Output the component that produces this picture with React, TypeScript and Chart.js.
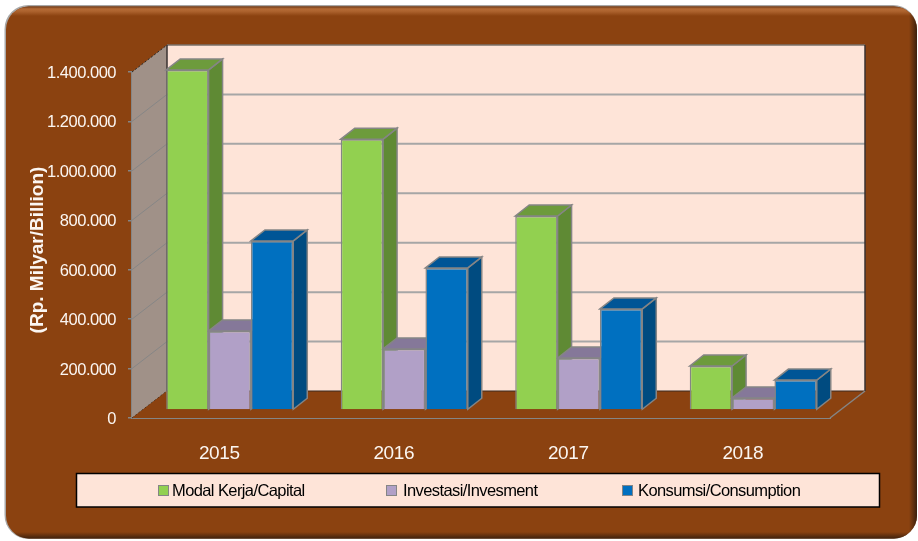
import React, { useEffect, useRef } from "react";
import { Chart, registerables } from "chart.js";

Chart.register(...registerables);

const categories = ["2015", "2016", "2017", "2018"];
const modalKerja = [1376000, 1096000, 785000, 178000];
const investasi = [320000, 247000, 210000, 49000];
const konsumsi = [684000, 575000, 409000, 121000];
const yTicks = [0, 200000, 400000, 600000, 800000, 1000000, 1200000, 1400000];
const yTitle = "(Rp. Milyar/Billion)";

const FONT = '"Liberation Sans", Arial, sans-serif';
const GRAY = "#858585";
const PEACH = "#FEE4D8";
const BROWN = "#8B4210";
const TEXT = "#FBF6F2";
const WALL = { dx: 35, dy: -27 };
const BAR_SHIFT = { dx: 10.5, dy: -8 };
const BAR_DEPTH = { dx: 14, dy: -11 };
const LEGEND_SWATCH_X = [158, 386, 622];
const LEGEND_TEXT_X = [172, 403, 638];
const shades = [
  { front: "#92D050", top: "#6D9B3C", side: "#5F8A34" },
  { front: "#B1A0C7", top: "#857899", side: "#6F6485" },
  { front: "#0070C0", top: "#005596", side: "#004B80" },
];

function poly(ctx: CanvasRenderingContext2D, pts: number[][], fill?: string, stroke?: string, lw = 1) {
  ctx.beginPath();
  pts.forEach((p, i) => (i ? ctx.lineTo(p[0], p[1]) : ctx.moveTo(p[0], p[1])));
  ctx.closePath();
  if (fill) {
    ctx.fillStyle = fill;
    ctx.fill();
  }
  if (stroke) {
    ctx.strokeStyle = stroke;
    ctx.lineWidth = lw;
    ctx.stroke();
  }
}

// Tick labels: a slightly tighter, taller setting, centred on the tick marks.
function tuneLabels(scale: any, spacing: string, shift: number) {
  if (scale.__tuned) return;
  scale.__tuned = true;
  const draw = scale.drawLabels;
  scale.drawLabels = function (area: any) {
    const ctx = this.ctx;
    ctx.save();
    ctx.letterSpacing = spacing;
    ctx.translate(0, shift);
    draw.call(this, area);
    ctx.restore();
  };
}

const framePlugin = {
  id: "frame",
  afterLayout(chart: any) {
    tuneLabels(chart.scales.y, "-0.5px", 1.5);
    tuneLabels(chart.scales.x, "-0.4px", 0);
  },
  beforeDraw(chart: any) {
    const ctx = chart.ctx as CanvasRenderingContext2D;
    ctx.save();
    const path = (x: number, y: number, w: number, h: number, r: number) => {
      ctx.beginPath();
      ctx.roundRect(x, y, w, h, r);
    };
    path(4.5, 5, 912.5, 534, 24);
    ctx.fillStyle = "#A8A8A8";
    ctx.fill();
    path(6, 6.5, 911, 532, 23);
    ctx.fillStyle = BROWN;
    ctx.fill();
    ctx.clip();
    const top = ctx.createLinearGradient(0, 6.5, 0, 16);
    top.addColorStop(0, "#6E3A18");
    top.addColorStop(0.25, "#B56A35");
    top.addColorStop(0.5, "#AD632E");
    top.addColorStop(1, BROWN);
    ctx.fillStyle = top;
    ctx.fillRect(0, 6, 918, 10);
    const right = ctx.createLinearGradient(909, 0, 917, 0);
    right.addColorStop(0, "rgba(50,28,14,0)");
    right.addColorStop(1, "rgba(50,28,14,0.9)");
    ctx.fillStyle = right;
    ctx.fillRect(909, 0, 9, 541);
    const bottom = ctx.createLinearGradient(0, 532, 0, 539);
    bottom.addColorStop(0, "rgba(50,28,14,0)");
    bottom.addColorStop(1, "rgba(50,28,14,0.9)");
    ctx.fillStyle = bottom;
    ctx.fillRect(0, 532, 918, 8);
    ctx.restore();
  },
};

const scenePlugin = {
  id: "scene",
  beforeDatasetsDraw(chart: any) {
    const ctx = chart.ctx as CanvasRenderingContext2D;
    const { left, right, top, bottom } = chart.chartArea;
    const y = chart.scales.y;
    const { dx, dy } = WALL;
    ctx.save();
    poly(ctx, [[left + dx, top + dy], [right + dx, top + dy], [right + dx, bottom + dy], [left + dx, bottom + dy]], PEACH);
    poly(ctx, [[left, top], [left + dx, top + dy], [left + dx, bottom + dy], [left, bottom]], "#A09188");
    yTicks.forEach((v) => {
      const py = y.getPixelForValue(v);
      if (v !== 0 && v !== 1400000) {
        ctx.strokeStyle = "#A6A6A6";
        ctx.lineWidth = 2;
        ctx.beginPath();
        ctx.moveTo(left + dx, py + dy);
        ctx.lineTo(right + dx, py + dy);
        ctx.stroke();
        ctx.strokeStyle = "#868686";
        ctx.lineWidth = 1;
        ctx.beginPath();
        ctx.moveTo(left, py);
        ctx.lineTo(left + dx, py + dy);
        ctx.stroke();
      }
    });
    // wall edges
    ctx.lineWidth = 1.5;
    ctx.strokeStyle = "#7A7068";
    ctx.beginPath();
    ctx.moveTo(left + dx, top + dy);
    ctx.lineTo(right + dx, top + dy);
    ctx.stroke();
    ctx.strokeStyle = "#3A3230";
    ctx.beginPath();
    ctx.moveTo(left + dx, top + dy);
    ctx.lineTo(left + dx, bottom + dy);
    ctx.moveTo(right + dx, top + dy);
    ctx.lineTo(right + dx, bottom + dy);
    ctx.stroke();
    ctx.lineWidth = 1;
    ctx.strokeStyle = "#2A2A2A";
    ctx.setLineDash([2, 2]);
    ctx.beginPath();
    ctx.moveTo(left, top);
    ctx.lineTo(left + dx, top + dy);
    ctx.moveTo(left, bottom);
    ctx.lineTo(left + dx, bottom + dy);
    ctx.stroke();
    ctx.setLineDash([]);
    // floor
    poly(ctx, [[left + dx, bottom + dy], [right + dx, bottom + dy], [right, bottom], [left, bottom]], BROWN);
    ctx.strokeStyle = "#3A2A20";
    ctx.lineWidth = 1;
    ctx.beginPath();
    ctx.moveTo(left + dx, bottom + dy);
    ctx.lineTo(right + dx, bottom + dy);
    ctx.stroke();
    ctx.strokeStyle = GRAY;
    ctx.lineWidth = 1.5;
    ctx.beginPath();
    ctx.moveTo(right, bottom);
    ctx.lineTo(right + dx, bottom + dy);
    ctx.stroke();

    // bar depth faces; Chart.js then draws the front faces in the same shift
    ctx.translate(BAR_SHIFT.dx, BAR_SHIFT.dy);
    const d = BAR_DEPTH;
    categories.forEach((_, i) => {
      chart.data.datasets.forEach((__: any, s: number) => {
        const bar = chart.getDatasetMeta(s).data[i];
        const { x, y: ty, base, width } = bar.getProps(["x", "y", "base", "width"], true);
        const l = x - width / 2;
        const r = x + width / 2;
        poly(ctx, [[r, ty], [r + d.dx, ty + d.dy], [r + d.dx, base + d.dy], [r, base]], shades[s].side, GRAY, 1.5);
        poly(ctx, [[l, ty], [l + d.dx, ty + d.dy], [r + d.dx, ty + d.dy], [r, ty]], shades[s].top, GRAY, 1.5);
      });
    });
  },
  afterDatasetsDraw(chart: any) {
    chart.ctx.restore();
  },
  afterDraw(chart: any) {
    const ctx = chart.ctx as CanvasRenderingContext2D;
    ctx.save();
    ctx.translate(38, 250);
    ctx.rotate(-Math.PI / 2);
    ctx.font = `bold 19px ${FONT}`;
    ctx.fillStyle = TEXT;
    ctx.textAlign = "center";
    ctx.textBaseline = "middle";
    ctx.fillText(yTitle, 0, 0);
    ctx.restore();

    ctx.save();
    ctx.fillStyle = PEACH;
    ctx.strokeStyle = "#000000";
    ctx.lineWidth = 1.5;
    ctx.fillRect(76.5, 473.5, 803, 33.5);
    ctx.strokeRect(76.5, 473.5, 803, 33.5);
    ctx.font = `16.5px ${FONT}`;
    (ctx as any).letterSpacing = "-0.6px";
    ctx.textBaseline = "middle";
    chart.data.datasets.forEach((ds: any, i: number) => {
      ctx.fillStyle = ds.backgroundColor;
      ctx.strokeStyle = GRAY;
      ctx.lineWidth = 1;
      ctx.fillRect(LEGEND_SWATCH_X[i] + 0.5, 485.5, 10, 10);
      ctx.strokeRect(LEGEND_SWATCH_X[i] + 0.5, 485.5, 10, 10);
      ctx.fillStyle = "#000000";
      ctx.fillText(ds.label, LEGEND_TEXT_X[i], 491);
    });
    ctx.restore();
  },
};

export default function App() {
  const ref = useRef<HTMLCanvasElement>(null);
  useEffect(() => {
    const chart = new Chart(ref.current as HTMLCanvasElement, {
      type: "bar",
      data: {
        labels: categories,
        datasets: [
          { label: "Modal Kerja/Capital", data: modalKerja, backgroundColor: shades[0].front },
          { label: "Investasi/Invesment", data: investasi, backgroundColor: shades[1].front },
          { label: "Konsumsi/Consumption", data: konsumsi, backgroundColor: shades[2].front },
        ].map((d) => ({ ...d, borderColor: GRAY, borderWidth: 1.5, categoryPercentage: 0.728, barPercentage: 1 })),
      },
      plugins: [framePlugin, scenePlugin],
      options: {
        responsive: false,
        animation: false,
        layout: { padding: { top: 72, right: 88, bottom: 0, left: 0 } },
        plugins: { legend: { display: false }, tooltip: { enabled: false } },
        scales: {
          x: {
            afterFit: (s: any) => {
              s.height = 123;
            },
            grid: { display: false, drawTicks: false },
            border: { display: true, color: GRAY, width: 2 },
            ticks: { color: TEXT, font: { family: FONT, size: 19 }, padding: 24 },
          },
          y: {
            min: 0,
            max: 1400000,
            afterFit: (s: any) => {
              s.width = 132;
            },
            afterBuildTicks: (s: any) => {
              s.ticks = yTicks.map((value) => ({ value }));
            },
            grid: { drawOnChartArea: false, drawTicks: true, tickLength: 4, color: GRAY, lineWidth: 1.5 },
            border: { display: true, color: GRAY, width: 1.5 },
            ticks: {
              color: TEXT,
              font: { family: FONT, size: 16.5 },
              padding: 12,
              callback: (v: any) => String(v).replace(/\B(?=(\d{3})+$)/g, "."),
            },
          },
        },
      } as any,
    });
    return () => chart.destroy();
  }, []);
  return (
    <div style={{ position: "fixed", left: 0, top: 0, width: 918, height: 541 }}>
      <canvas ref={ref} width={918} height={541} style={{ display: "block" }} />
    </div>
  );
}
